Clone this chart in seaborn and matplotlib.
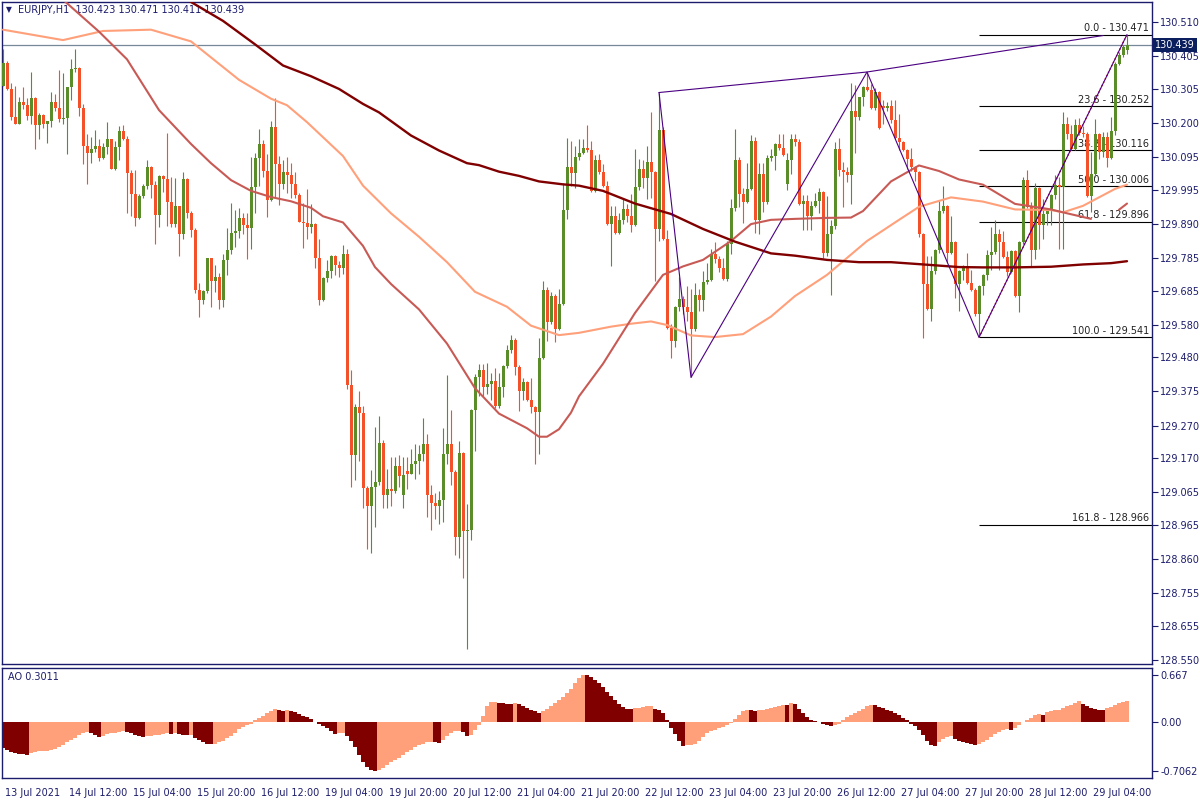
import numpy as np
import matplotlib
matplotlib.use("Agg")
import matplotlib.pyplot as plt
import matplotlib.transforms as mtransforms
import seaborn as sns

# EURJPY H1 - one bar per hour, 13 Jul 2021 20:00 -> 29 Jul 2021 13:00
opens = [
    130.313, 130.385, 130.304, 130.218, 130.197, 130.263, 130.255, 130.222, 130.275, 130.192,
    130.224, 130.197, 130.205, 130.263, 130.244, 130.211, 130.215, 130.309, 130.365, 130.369,
    130.245, 130.128, 130.107, 130.119, 130.130, 130.091, 130.125, 130.149, 130.059, 130.127,
    130.175, 130.150, 130.046, 129.981, 129.909, 129.974, 130.007, 130.064, 130.009, 129.918,
    130.037, 130.026, 129.957, 129.889, 129.944, 129.857, 130.026, 129.922, 129.871, 129.687,
    129.657, 129.684, 129.784, 129.713, 129.727, 129.657, 129.779, 129.809, 129.861, 129.867,
    129.909, 129.887, 129.876, 130.003, 130.091, 130.134, 130.052, 129.964, 130.187, 130.074,
    130.012, 130.048, 130.039, 130.012, 129.977, 129.896, 129.893, 129.880, 129.889, 129.785,
    129.655, 129.724, 129.745, 129.790, 129.762, 129.753, 129.798, 129.394, 129.179, 129.327,
    129.310, 129.079, 129.023, 129.082, 129.097, 129.218, 129.056, 129.075, 129.069, 129.147,
    129.058, 129.131, 129.123, 129.153, 129.160, 129.183, 129.214, 129.058, 129.032, 129.023,
    129.042, 129.182, 129.214, 129.127, 128.928, 129.186, 128.945, 128.951, 129.319, 129.420,
    129.440, 129.388, 129.397, 129.407, 129.329, 129.388, 129.453, 129.501, 129.534, 129.449,
    129.375, 129.404, 129.349, 129.327, 129.312, 129.479, 129.687, 129.587, 129.668, 129.566,
    129.644, 129.931, 130.065, 130.046, 130.095, 130.108, 130.124, 130.116, 129.991, 130.085,
    130.048, 130.007, 129.889, 129.913, 129.863, 129.902, 129.935, 129.915, 129.887, 130.003,
    130.059, 130.030, 130.081, 130.048, 129.874, 130.179, 129.844, 129.570, 129.531, 129.633,
    129.659, 129.635, 129.618, 129.566, 129.672, 129.655, 129.711, 129.717, 129.798, 129.783,
    129.753, 129.720, 129.827, 129.939, 130.085, 129.981, 129.958, 129.998, 130.144, 129.902,
    130.042, 129.957, 130.091, 130.098, 130.134, 130.124, 130.013, 130.085, 130.150, 130.141,
    129.952, 129.959, 129.913, 129.945, 129.961, 129.987, 129.801, 129.859, 129.883, 130.121,
    130.056, 130.050, 130.039, 130.235, 130.219, 130.278, 130.310, 130.302, 130.244, 130.296,
    130.252, 130.244, 130.252, 130.209, 130.153, 130.140, 130.115, 130.089, 130.063, 130.050,
    129.857, 129.704, 129.629, 129.746, 129.809, 129.929, 129.945, 129.801, 129.833, 129.704,
    129.746, 129.760, 129.707, 129.687, 129.612, 129.700, 129.733, 129.795, 129.804, 129.860,
    129.834, 129.788, 129.743, 129.805, 129.668, 129.834, 130.025, 129.941, 129.808, 129.999,
    129.885, 129.921, 129.930, 129.977, 130.008, 130.003, 130.197, 130.167, 130.121, 130.192,
    130.170, 130.165, 129.975, 130.042, 130.167, 130.110, 130.156, 130.092, 130.174, 130.382,
    130.407, 130.423,
]
highs = [
    130.426, 130.391, 130.322, 130.313, 130.280, 130.309, 130.276, 130.356, 130.280, 130.231,
    130.228, 130.205, 130.296, 130.287, 130.362, 130.352, 130.309, 130.395, 130.428, 130.372,
    130.258, 130.166, 130.157, 130.179, 130.150, 130.137, 130.202, 130.151, 130.144, 130.189,
    130.194, 130.159, 130.055, 130.055, 129.981, 130.013, 130.087, 130.068, 130.020, 130.039,
    130.039, 130.170, 130.033, 130.030, 129.946, 130.048, 130.030, 129.929, 129.878, 129.707,
    129.687, 129.784, 129.786, 129.762, 129.740, 129.798, 129.876, 129.955, 129.932, 129.938,
    129.922, 129.922, 130.094, 130.107, 130.180, 130.146, 130.104, 130.205, 130.276, 130.098,
    130.085, 130.094, 130.076, 130.050, 129.983, 129.955, 129.998, 129.951, 129.891, 129.844,
    129.727, 129.779, 129.794, 129.794, 129.776, 129.824, 129.811, 129.440, 129.336, 129.375,
    129.329, 129.084, 129.134, 129.267, 129.299, 129.225, 129.136, 129.173, 129.175, 129.179,
    129.173, 129.175, 129.199, 129.214, 129.212, 129.293, 129.244, 129.088, 129.062, 129.069,
    129.264, 129.424, 129.319, 129.134, 129.222, 129.190, 129.029, 129.322, 129.429, 129.459,
    129.459, 129.462, 129.433, 129.446, 129.433, 129.456, 129.518, 129.548, 129.538, 129.455,
    129.416, 129.408, 129.416, 129.329, 129.540, 129.713, 129.697, 129.681, 129.674, 129.690,
    130.016, 130.154, 130.144, 130.130, 130.150, 130.150, 130.192, 130.144, 130.102, 130.104,
    130.072, 130.022, 129.944, 129.944, 129.922, 129.968, 129.951, 129.981, 130.120, 130.089,
    130.087, 130.130, 130.232, 130.052, 130.293, 130.186, 129.870, 129.583, 129.636, 129.727,
    129.668, 129.698, 129.691, 129.707, 129.691, 129.746, 129.770, 129.811, 129.833, 129.792,
    129.785, 129.837, 129.965, 130.180, 130.095, 130.000, 130.076, 130.163, 130.157, 130.076,
    130.078, 130.102, 130.121, 130.137, 130.166, 130.166, 130.108, 130.166, 130.166, 130.150,
    129.977, 129.978, 129.961, 129.983, 130.000, 129.990, 129.974, 129.902, 130.140, 130.153,
    130.081, 130.065, 130.322, 130.316, 130.280, 130.313, 130.356, 130.319, 130.306, 130.299,
    130.271, 130.265, 130.271, 130.271, 130.228, 130.144, 130.120, 130.124, 130.068, 130.052,
    129.863, 129.792, 129.792, 129.811, 129.961, 130.007, 129.948, 129.915, 129.838, 129.749,
    129.762, 129.801, 129.749, 129.693, 129.701, 129.736, 129.808, 129.879, 129.903, 129.873,
    129.869, 129.805, 129.808, 129.808, 129.838, 130.033, 130.055, 129.958, 130.016, 130.003,
    129.967, 129.935, 129.980, 130.039, 130.034, 130.233, 130.218, 130.192, 130.213, 130.215,
    130.190, 130.172, 130.110, 130.213, 130.170, 130.172, 130.172, 130.218, 130.387, 130.418,
    130.438, 130.471,
]
lows = [
    130.313, 130.300, 130.209, 130.196, 130.196, 130.241, 130.209, 130.197, 130.120, 130.150,
    130.183, 130.137, 130.187, 130.235, 130.202, 130.196, 130.104, 130.271, 130.356, 130.222,
    130.072, 130.013, 130.078, 130.111, 130.082, 130.088, 130.104, 130.057, 130.056, 130.087,
    130.148, 129.922, 129.915, 129.883, 129.905, 129.968, 129.998, 129.968, 129.828, 129.880,
    129.987, 129.882, 129.880, 129.879, 129.792, 129.844, 129.909, 129.850, 129.678, 129.603,
    129.644, 129.678, 129.635, 129.681, 129.629, 129.635, 129.733, 129.798, 129.818, 129.846,
    129.857, 129.783, 129.811, 129.922, 130.007, 130.033, 129.912, 129.960, 129.968, 129.948,
    129.998, 129.985, 129.970, 129.968, 129.894, 129.815, 129.844, 129.861, 129.755, 129.639,
    129.652, 129.711, 129.723, 129.733, 129.727, 129.736, 129.381, 129.082, 129.104, 129.160,
    129.016, 128.890, 128.880, 128.958, 129.088, 129.016, 129.016, 129.023, 129.062, 129.082,
    129.016, 129.075, 129.121, 129.105, 129.121, 129.160, 128.990, 128.951, 128.984, 128.968,
    128.975, 129.153, 129.088, 128.873, 128.864, 128.801, 128.584, 128.919, 129.192, 129.362,
    129.362, 129.368, 129.349, 129.323, 129.323, 129.358, 129.446, 129.492, 129.427, 129.314,
    129.349, 129.346, 129.310, 129.151, 129.183, 129.476, 129.531, 129.583, 129.528, 129.564,
    129.642, 129.906, 130.007, 130.000, 130.085, 130.104, 130.111, 129.987, 129.988, 130.042,
    130.004, 129.887, 129.759, 129.860, 129.860, 129.889, 129.896, 129.866, 129.883, 129.994,
    130.000, 129.965, 129.968, 129.713, 129.837, 129.840, 129.568, 129.479, 129.512, 129.622,
    129.613, 129.590, 129.418, 129.561, 129.622, 129.622, 129.705, 129.714, 129.770, 129.743,
    129.717, 129.713, 129.798, 129.929, 129.942, 129.892, 129.955, 129.993, 129.863, 129.859,
    129.926, 129.952, 130.082, 130.056, 130.117, 130.098, 129.994, 130.042, 130.130, 129.948,
    129.870, 129.870, 129.870, 129.942, 129.922, 129.785, 129.792, 129.672, 129.873, 130.037,
    129.942, 130.017, 129.952, 130.108, 130.209, 130.252, 130.297, 130.241, 130.240, 130.180,
    130.196, 130.237, 130.200, 130.150, 130.117, 130.112, 130.059, 130.052, 130.020, 129.848,
    129.538, 129.626, 129.590, 129.737, 129.801, 129.922, 129.772, 129.798, 129.661, 129.622,
    129.716, 129.706, 129.684, 129.608, 129.541, 129.671, 129.717, 129.749, 129.798, 129.749,
    129.786, 129.730, 129.739, 129.664, 129.619, 129.827, 129.938, 129.760, 129.782, 129.813,
    129.844, 129.885, 129.885, 129.967, 129.813, 129.813, 130.151, 130.116, 130.116, 130.162,
    130.156, 129.972, 129.926, 130.034, 130.090, 130.095, 130.064, 130.090, 130.162, 130.377,
    130.402, 130.411,
]
closes = [
    130.385, 130.304, 130.219, 130.197, 130.263, 130.255, 130.222, 130.275, 130.192, 130.224,
    130.196, 130.205, 130.263, 130.244, 130.211, 130.215, 130.309, 130.365, 130.369, 130.245,
    130.128, 130.107, 130.119, 130.130, 130.091, 130.125, 130.149, 130.059, 130.127, 130.175,
    130.150, 130.046, 129.981, 129.909, 129.974, 130.007, 130.064, 130.009, 129.918, 130.037,
    130.026, 129.957, 129.889, 129.944, 129.857, 130.026, 129.922, 129.871, 129.687, 129.657,
    129.684, 129.784, 129.713, 129.727, 129.657, 129.779, 129.809, 129.861, 129.867, 129.909,
    129.887, 129.876, 130.003, 130.091, 130.134, 130.052, 129.964, 130.187, 130.074, 130.012,
    130.048, 130.039, 130.012, 129.977, 129.896, 129.893, 129.880, 129.889, 129.785, 129.655,
    129.724, 129.745, 129.790, 129.762, 129.753, 129.798, 129.394, 129.179, 129.327, 129.310,
    129.079, 129.023, 129.082, 129.097, 129.218, 129.056, 129.075, 129.069, 129.147, 129.114,
    129.118, 129.123, 129.153, 129.160, 129.183, 129.214, 129.058, 129.032, 129.023, 129.042,
    129.182, 129.214, 129.127, 128.928, 129.186, 128.945, 128.951, 129.319, 129.420, 129.440,
    129.388, 129.397, 129.407, 129.329, 129.388, 129.453, 129.501, 129.534, 129.449, 129.375,
    129.404, 129.349, 129.327, 129.312, 129.479, 129.687, 129.587, 129.668, 129.566, 129.644,
    129.931, 130.065, 130.046, 130.095, 130.108, 130.124, 130.116, 129.991, 130.085, 130.048,
    130.007, 129.889, 129.913, 129.863, 129.902, 129.935, 129.915, 129.887, 130.003, 130.059,
    130.030, 130.081, 130.048, 129.874, 130.179, 129.844, 129.570, 129.531, 129.633, 129.659,
    129.635, 129.618, 129.566, 129.672, 129.655, 129.711, 129.717, 129.798, 129.783, 129.753,
    129.720, 129.827, 129.939, 130.085, 129.981, 129.958, 129.998, 130.144, 129.902, 130.042,
    129.957, 130.091, 130.098, 130.134, 130.124, 130.102, 130.085, 130.150, 130.141, 129.952,
    129.959, 129.913, 129.945, 129.961, 129.987, 129.801, 129.859, 129.883, 130.121, 130.056,
    130.050, 130.039, 130.235, 130.219, 130.278, 130.310, 130.302, 130.244, 130.296, 130.183,
    130.244, 130.252, 130.209, 130.153, 130.140, 130.115, 130.089, 130.063, 130.050, 129.857,
    129.704, 129.629, 129.746, 129.809, 129.929, 129.945, 129.801, 129.833, 129.704, 129.746,
    129.760, 129.707, 129.687, 129.612, 129.700, 129.733, 129.795, 129.804, 129.860, 129.834,
    129.788, 129.743, 129.805, 129.668, 129.834, 130.025, 129.941, 129.808, 129.999, 129.885,
    129.921, 129.930, 129.977, 130.008, 130.003, 130.197, 130.167, 130.121, 130.192, 130.170,
    130.165, 129.975, 130.042, 130.167, 130.110, 130.156, 130.092, 130.174, 130.382, 130.407,
    130.433, 130.439,
]

# Awesome Oscillator, one value per bar
ao_values = [
    -0.376, -0.409, -0.431, -0.445, -0.459, -0.468, -0.473, -0.445, -0.436, -0.427,
    -0.422, -0.418, -0.409, -0.386, -0.363, -0.330, -0.294, -0.262, -0.230, -0.193,
    -0.156, -0.151, -0.165, -0.193, -0.220, -0.202, -0.179, -0.165, -0.161, -0.147,
    -0.133, -0.147, -0.165, -0.184, -0.202, -0.220, -0.211, -0.207, -0.197, -0.188,
    -0.174, -0.165, -0.174, -0.165, -0.179, -0.193, -0.197, -0.188, -0.239, -0.262,
    -0.294, -0.317, -0.326, -0.317, -0.298, -0.271, -0.239, -0.202, -0.156, -0.110,
    -0.083, -0.055, -0.028, 0.019, 0.052, 0.085, 0.123, 0.156, 0.180, 0.170,
    0.156, 0.161, 0.147, 0.132, 0.109, 0.085, 0.066, 0.038, -0.009, -0.032,
    -0.064, -0.096, -0.133, -0.174, -0.165, -0.161, -0.202, -0.271, -0.363, -0.477,
    -0.578, -0.647, -0.689, -0.7062, -0.693, -0.661, -0.615, -0.578, -0.546, -0.514,
    -0.477, -0.441, -0.404, -0.367, -0.340, -0.317, -0.298, -0.289, -0.294, -0.303,
    -0.257, -0.211, -0.165, -0.138, -0.133, -0.147, -0.211, -0.193, -0.119, -0.041,
    0.085, 0.217, 0.274, 0.284, 0.265, 0.260, 0.255, 0.251, 0.260, 0.246,
    0.218, 0.194, 0.170, 0.147, 0.123, 0.147, 0.180, 0.218, 0.265, 0.303,
    0.350, 0.407, 0.464, 0.549, 0.620, 0.667, 0.662, 0.634, 0.596, 0.549,
    0.492, 0.430, 0.369, 0.312, 0.251, 0.208, 0.184, 0.180, 0.189, 0.199,
    0.208, 0.218, 0.227, 0.180, 0.170, 0.123, 0.028, -0.087, -0.179, -0.271,
    -0.349, -0.340, -0.330, -0.317, -0.271, -0.216, -0.165, -0.133, -0.119, -0.096,
    -0.078, -0.055, -0.018, 0.038, 0.099, 0.147, 0.170, 0.161, 0.147, 0.161,
    0.170, 0.180, 0.189, 0.203, 0.218, 0.241, 0.232, 0.265, 0.251, 0.184,
    0.123, 0.066, 0.028, 0.005, -0.009, -0.032, -0.055, -0.064, -0.046, -0.028,
    0.019, 0.066, 0.099, 0.123, 0.156, 0.184, 0.218, 0.237, 0.232, 0.203,
    0.189, 0.170, 0.147, 0.123, 0.090, 0.052, 0.019, -0.028, -0.064, -0.124,
    -0.193, -0.271, -0.330, -0.353, -0.294, -0.248, -0.225, -0.211, -0.248, -0.271,
    -0.294, -0.308, -0.321, -0.330, -0.317, -0.294, -0.257, -0.225, -0.179, -0.142,
    -0.119, -0.110, -0.119, -0.087, -0.046, -0.009, 0.019, 0.047, 0.090, 0.109,
    0.099, 0.132, 0.147, 0.161, 0.170, 0.194, 0.218, 0.241, 0.265, 0.293,
    0.255, 0.218, 0.194, 0.180, 0.170, 0.166, 0.189, 0.203, 0.237, 0.260,
    0.279, 0.3011,
]

# moving averages at some bars
ma_light_bar = [0, 15, 25, 37, 47, 59, 67, 71, 76, 85, 90, 97, 104, 111, 118, 126, 132, 139, 144, 152,
                157, 162, 166, 172, 178, 185, 192, 198, 206, 216, 224, 229, 237, 245, 253, 262, 265, 270,
                274, 278, 281]
ma_light_val = [130.486, 130.454, 130.482, 130.486, 130.450, 130.332, 130.274, 130.254, 130.202, 130.098,
                130.007, 129.922, 129.850, 129.772, 129.681, 129.635, 129.577, 129.548, 129.555, 129.574,
                129.583, 129.590, 129.579, 129.547, 129.542, 129.551, 129.605, 129.668, 129.733, 129.837,
                129.902, 129.942, 129.971, 129.958, 129.934, 129.932, 129.925, 129.945, 129.971, 129.997,
                130.010]
ma_mid_bar = [12, 15, 24, 31, 35, 39, 43, 47, 52, 57, 62, 67, 72, 77, 80, 85, 90, 93, 97, 104,
              111, 118, 124, 131, 134, 136, 139, 142, 144, 150, 158, 165, 170, 175, 182, 187, 192, 198,
              206, 212, 215, 222, 229, 234, 239, 245, 253, 262, 265, 272]
ma_mid_val = [130.611, 130.578, 130.480, 130.395, 130.317, 130.239, 130.187, 130.135, 130.076, 130.024,
              129.991, 129.972, 129.959, 129.939, 129.913, 129.894, 129.822, 129.757, 129.705, 129.627,
              129.522, 129.385, 129.307, 129.262, 129.236, 129.236, 129.259, 129.310, 129.360, 129.460,
              129.616, 129.733, 129.759, 129.779, 129.837, 129.889, 129.902, 129.905, 129.908, 129.909,
              129.929, 130.020, 130.069, 130.052, 130.026, 130.010, 129.951, 129.934, 129.925, 129.905]
ma_mid_tail_bar = [279, 281]
ma_mid_tail_val = [129.933, 129.952]
ma_slow_bar = [40, 47, 55, 63, 70, 77, 84, 90, 94, 102, 109, 116, 119, 124, 129, 134, 140, 144, 150, 158,
               167, 175, 183, 192, 198, 206, 214, 222, 229, 239, 245, 253, 262, 270, 277, 281]
ma_slow_val = [130.622, 130.571, 130.513, 130.441, 130.376, 130.343, 130.304, 130.258, 130.232, 130.161,
               130.115, 130.076, 130.070, 130.050, 130.037, 130.020, 130.011, 130.007, 129.991, 129.952,
               129.920, 129.874, 129.835, 129.799, 129.792, 129.779, 129.772, 129.772, 129.766, 129.757,
               129.756, 129.756, 129.758, 129.765, 129.769, 129.775]

# objects drawn on the chart
zigzag_bar = [164, 172, 216, 244, 281]
zigzag_val = [130.293, 129.418, 130.356, 129.541, 130.471]
highline_bar = [164, 216, 275]
highline_val = [130.293, 130.356, 130.468]
fib_base_bar = [244, 281]
fib_base_val = [129.541, 130.471]
fib_levels = ["0.0", "23.6", "38.2", "50.0", "61.8", "100.0", "161.8"]
fib_prices = [130.471, 130.252, 130.116, 130.006, 129.896, 129.541, 128.966]

time_labels = ["13 Jul 2021", "14 Jul 12:00", "15 Jul 04:00", "15 Jul 20:00", "16 Jul 12:00",
               "19 Jul 04:00", "19 Jul 20:00", "20 Jul 12:00", "21 Jul 04:00", "21 Jul 20:00",
               "22 Jul 12:00", "23 Jul 04:00", "23 Jul 20:00", "26 Jul 12:00", "27 Jul 04:00",
               "27 Jul 20:00", "28 Jul 12:00", "29 Jul 04:00"]
price_ticks = [130.510, 130.405, 130.305, 130.200, 130.095, 129.995, 129.890, 129.785, 129.685, 129.580,
               129.480, 129.375, 129.270, 129.170, 129.065, 128.965, 128.860, 128.755, 128.655, 128.550]
ao_ticks = [0.667, 0.0, -0.7062]
ao_tick_labels = ["0.667", "0.00", "-0.7062"]

sns.set_style("white")
plt.rcParams["font.family"] = ["DejaVu Sans"]

navy = "#1c1c6c"
bull, bear = "#5b8c2a", "#f2512a"

fig = plt.figure(figsize=(12, 8), dpi=100)
ax = fig.add_axes([2 / 1200, 136 / 800, 1150 / 1200, 662 / 800])
ax2 = fig.add_axes([2 / 1200, 22 / 800, 1150 / 1200, 110 / 800])

o, h, l, c = (np.array(v) for v in (opens, highs, lows, closes))
bars = np.arange(len(c))
colors = np.where(c >= o, bull, bear)

# candles
ax.vlines(bars, l, h, colors=colors, lw=0.8, zorder=3)
ax.bar(bars, np.maximum(np.abs(c - o), 0.003), bottom=np.minimum(o, c), width=0.75,
       color=colors, linewidth=0, zorder=3)

# moving averages
sns.lineplot(x=ma_light_bar, y=ma_light_val, color="#ffa07a", lw=1.5, ax=ax, zorder=4)
sns.lineplot(x=ma_mid_bar, y=ma_mid_val, color="#c85a55", lw=1.5, ax=ax, zorder=4)
sns.lineplot(x=ma_mid_tail_bar, y=ma_mid_tail_val, color="#c85a55", lw=1.5, ax=ax, zorder=4)
sns.lineplot(x=ma_slow_bar, y=ma_slow_val, color="#800000", lw=1.7, ax=ax, zorder=4)

# fibonacci retracement
xmax = 287.25
ax.hlines(fib_prices, fib_base_bar[0], xmax, color="black", lw=0.8, zorder=1)
ytr = ax.get_yaxis_transform()
for lev, p in zip(fib_levels, fib_prices):
    ax.text(1 - 3 / 1150, p + 0.004, f"{lev} - {p:.3f}", transform=ytr, ha="right", va="bottom",
            fontsize=7, color="#222222", zorder=1)
sns.lineplot(x=fib_base_bar, y=fib_base_val, color="red", lw=1, linestyle=":", ax=ax, zorder=5)

# zigzag and high trend line
sns.lineplot(x=zigzag_bar, y=zigzag_val, sort=False, color="#4b0082", lw=0.8, ax=ax, zorder=5)
sns.lineplot(x=highline_bar, y=highline_val, sort=False, color="#4b0082", lw=0.8, ax=ax, zorder=5)

# last price line and label
ax.axhline(closes[-1], color="#778899", lw=0.9, zorder=2)
ax.text(1.0025, closes[-1], f"{closes[-1]:.3f}", transform=ytr, ha="left", va="center", fontsize=7,
        color="white", clip_on=False, zorder=10,
        bbox=dict(boxstyle="square,pad=0.2", fc="#0b1f5e", ec="none"))

ax.text(4 / 1150, 1 - 8 / 662, "\u25bc", transform=ax.transAxes, fontsize=5.5, color=navy,
        va="center", ha="left", zorder=1)
ax.text(16 / 1150, 1 - 8 / 662,
        f"EURJPY,H1  {opens[-1]:.3f} {highs[-1]:.3f} {lows[-1]:.3f} {closes[-1]:.3f}",
        transform=ax.transAxes, fontsize=7, color=navy, va="center", ha="left", zorder=1)

ax.set_xlim(-0.25, xmax)
ax.set_ylim(128.538, 130.571)
ax.set_xticks([])
ax.yaxis.tick_right()
ax.set_yticks(price_ticks)
ax.set_yticklabels([f"{v:.3f}" for v in price_ticks])
ax.tick_params(axis="y", direction="out", length=4, width=0.8, colors=navy, labelsize=7, pad=2)
ax.set_xlabel("")
ax.set_ylabel("")

# AO panel
ao = np.array(ao_values)
rising = np.r_[False, np.diff(ao) > 0]
ax2.bar(bars, ao, width=1.0, color=np.where(rising, "#ffa07a", "#800000"), linewidth=0)
ax2.set_xlim(-0.25, xmax)
ax2.set_ylim(-0.806, 0.767)
ax2.yaxis.tick_right()
ax2.set_yticks(ao_ticks)
ax2.set_yticklabels(ao_tick_labels)
ax2.tick_params(axis="y", direction="out", length=4, width=0.8, colors=navy, labelsize=7, pad=2)
ax2.set_xticks(np.arange(len(time_labels)) * 16)
ax2.set_xticklabels(time_labels, ha="left")
ax2.tick_params(axis="x", direction="out", length=5, width=0.8, colors=navy, labelsize=7, pad=2)
shift = mtransforms.ScaledTranslation(2 / 100, 0, fig.dpi_scale_trans)
for lbl in ax2.get_xticklabels():
    lbl.set_transform(lbl.get_transform() + shift)
ax2.text(6 / 1150, 1 - 9 / 110, f"AO {ao_values[-1]:.4f}", transform=ax2.transAxes, fontsize=7,
         color=navy, va="center", ha="left")

for a in (ax, ax2):
    for s in a.spines.values():
        s.set_color(navy)
        s.set_linewidth(1)

fig.savefig("out.png", dpi=100)
